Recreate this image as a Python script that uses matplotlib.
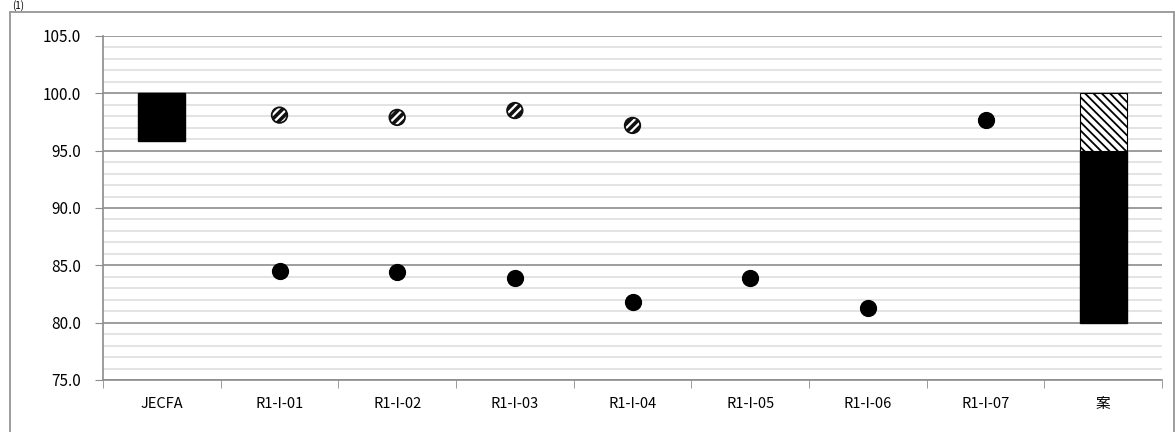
import matplotlib
matplotlib.use("Agg")
import matplotlib.pyplot as plt
import numpy as np
from matplotlib.patches import Rectangle

plt.rcParams['font.family'] = ['Noto Sans CJK JP', 'DejaVu Sans']

# data
categories = ['JECFA', 'R1-I-01', 'R1-I-02', 'R1-I-03', 'R1-I-04',
              'R1-I-05', 'R1-I-06', 'R1-I-07', '案']
jecfa_low = 95.8
jecfa_high = 100.0
hatched_idx = [1, 2, 3, 4]
hatched_vals = [98.1, 97.9, 98.5, 97.2]
solid_idx = [1, 2, 3, 4, 5, 6, 7]
solid_vals = [84.5, 84.4, 83.9, 81.8, 83.9, 81.3, 97.7]
plan_low = 80.0
plan_mid = 95.0
plan_high = 100.0

fig = plt.figure(figsize=(11.75, 4.32), dpi=100)
ax = fig.add_axes([103/1175, 52/432, 1059/1175, 344/432])

# outer frame
fig.patches.append(Rectangle((10/1175, -0.05), 1164/1175, 1 - 12/432 + 0.05,
                             transform=fig.transFigure, fill=False,
                             edgecolor='#8c8c8c', linewidth=1.2))
fig.text(12/1175, 0.999, '(1)', fontsize=7, va='top', ha='left')

x = np.arange(len(categories))
w = 0.40

# JECFA bar
ax.bar(x[0], jecfa_high - jecfa_low, bottom=jecfa_low, width=w,
       color='black', edgecolor='black', zorder=3)
# 案 stacked bar
ax.bar(x[-1], plan_mid - plan_low, bottom=plan_low, width=w,
       color='black', edgecolor='black', zorder=3)
with plt.rc_context({'hatch.linewidth': 1.3}):
    ax.bar(x[-1], plan_high - plan_mid, bottom=plan_mid, width=w,
           color='white', edgecolor='black', hatch='\\\\\\\\', linewidth=0.8, zorder=3)

# points
with plt.rc_context({'hatch.linewidth': 2.6}):
    ax.scatter(hatched_idx, hatched_vals, s=125, facecolor='white',
               edgecolor='#111111', hatch='////', linewidth=1.3, zorder=4)
ax.scatter(solid_idx, solid_vals, s=130, color='black', zorder=4)

ax.set_xlim(-0.5, len(categories) - 0.5)
ax.set_ylim(75, 105)
ax.set_yticks(np.arange(75, 105.1, 5))
ax.set_yticklabels([f'{v:.1f}' for v in np.arange(75, 105.1, 5)], fontsize=11)
ax.set_yticks(np.arange(75, 105.1, 1), minor=True)
ax.set_xticks(x)
ax.set_xticklabels(categories, fontsize=10.5)
ax.tick_params(axis='x', length=0, pad=12)
ax.tick_params(axis='y', which='major', length=6, color='#8c8c8c', pad=10)
ax.tick_params(axis='y', which='minor', length=0)

# category boundary ticks
ax.set_xticks(np.arange(-0.5, len(categories), 1), minor=True)
ax.tick_params(axis='x', which='minor', length=6, color='#8c8c8c')

ax.grid(axis='y', which='minor', color='#e0e0e0', linewidth=1.3, zorder=0)
ax.grid(axis='y', which='major', color='#8c8c8c', linewidth=1.2, zorder=1)
ax.set_axisbelow(True)

for s in ['top', 'right']:
    ax.spines[s].set_visible(False)
ax.spines['left'].set_color('#8c8c8c')
ax.spines['bottom'].set_color('#8c8c8c')
ax.spines['left'].set_linewidth(1.2)
ax.spines['bottom'].set_linewidth(1.2)

fig.savefig('out.png', dpi=100)
